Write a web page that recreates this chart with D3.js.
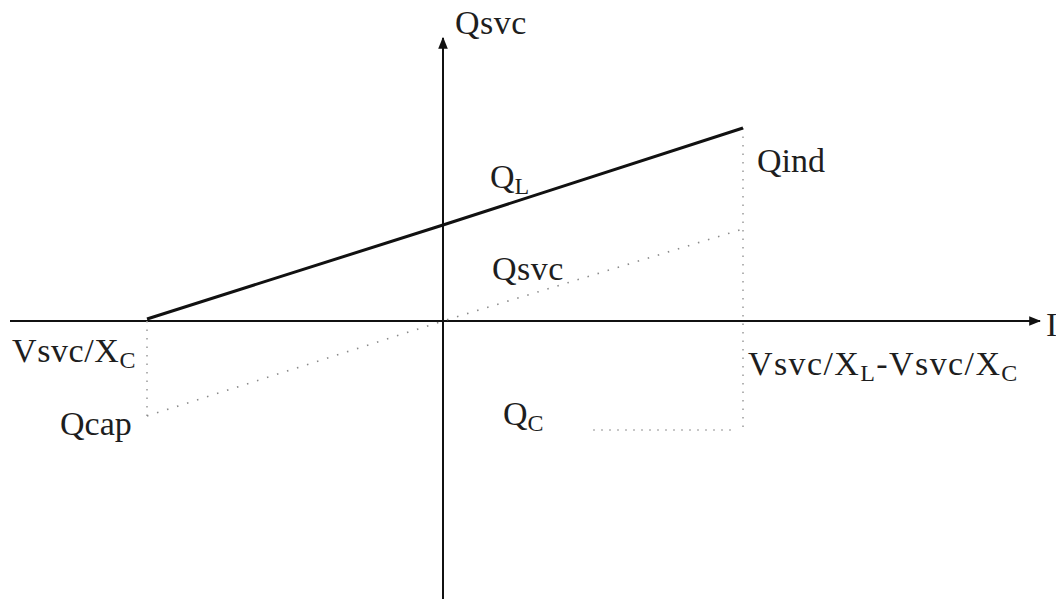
<!DOCTYPE html>
<html>
<head>
<meta charset="utf-8">
<script src="https://cdn.jsdelivr.net/npm/d3@7"></script>
<style>
  html, body { margin: 0; padding: 0; background: #fff; overflow: hidden; }
  text { font-family: "Liberation Serif", "DejaVu Serif", serif; fill: #1e1e1e; }
</style>
</head>
<body>
<div id="chart"></div>
<script>
// SVC characteristic: Qsvc = Q_L - Q_C against current I
// x positions (abstract units): capacitive limit, origin, inductive limit
var xPoints = [-2.96, 0, 3.0];
var qLine = [0.02, 0.96, 1.93];      // Q_L, solid
var qSvcLine = [-0.95, 0, 0.92];     // Qsvc, dotted
var qcLevel = -1.09;                  // Q_C dotted level
var qcRange = [1.5, 2.9];

var width = 1056, height = 599;

var svg = d3.select("#chart").append("svg")
    .attr("width", width)
    .attr("height", height);

var x = d3.scaleLinear().domain([-4.33, 5.97]).range([10, 1040]);
var y = d3.scaleLinear().domain([-2.78, 2.83]).range([599, 38]);

var defs = svg.append("defs");
defs.append("marker")
    .attr("id", "arrow")
    .attr("viewBox", "0 0 10 10")
    .attr("refX", 9).attr("refY", 5)
    .attr("markerWidth", 6).attr("markerHeight", 6)
    .attr("markerUnits", "strokeWidth")
    .attr("orient", "auto")
    .append("path")
    .attr("d", "M0,1 L10,5 L0,9 Z")
    .attr("fill", "#111");

// axes
svg.append("line")
    .attr("x1", x(-4.33)).attr("y1", y(0))
    .attr("x2", x(5.97)).attr("y2", y(0))
    .attr("stroke", "#111").attr("stroke-width", 2)
    .attr("marker-end", "url(#arrow)");

svg.append("line")
    .attr("x1", x(0)).attr("y1", y(-2.78))
    .attr("x2", x(0)).attr("y2", y(2.83))
    .attr("stroke", "#111").attr("stroke-width", 2)
    .attr("marker-end", "url(#arrow)");

var line = d3.line()
    .x(function (d) { return x(d[0]); })
    .y(function (d) { return y(d[1]); });

// vertical dotted guides
svg.append("path")
    .attr("d", line([[xPoints[0], 0], [xPoints[0], qSvcLine[0] - 0.05]]))
    .attr("stroke", "#9a9a9a").attr("stroke-width", 1.5)
    .attr("stroke-dasharray", "1.5,7").attr("fill", "none");

svg.append("path")
    .attr("d", line([[xPoints[2], qLine[2]], [xPoints[2], qcLevel]]))
    .attr("stroke", "#9a9a9a").attr("stroke-width", 1.5)
    .attr("stroke-dasharray", "1.5,7").attr("fill", "none");

// Q_C dotted level
svg.append("path")
    .attr("d", line([[qcRange[0], qcLevel], [qcRange[1], qcLevel]]))
    .attr("stroke", "#b5b5b5").attr("stroke-width", 1.5)
    .attr("stroke-dasharray", "2,6").attr("fill", "none");

// Qsvc dotted
svg.append("path")
    .attr("d", line(xPoints.map(function (v, i) { return [v, qSvcLine[i]]; })))
    .attr("stroke", "#8a8a8a").attr("stroke-width", 1.6)
    .attr("stroke-dasharray", "1.5,9").attr("fill", "none");

// Q_L solid
svg.append("path")
    .attr("d", line(xPoints.map(function (v, i) { return [v, qLine[i]]; })))
    .attr("stroke", "#111").attr("stroke-width", 3)
    .attr("fill", "none");

// labels
function label(px, py, parts, size, spacing) {
    var t = svg.append("text")
        .attr("x", px).attr("y", py)
        .attr("font-size", size + "px")
        .attr("letter-spacing", (spacing || 0) + "px");
    parts.forEach(function (p) {
        var s = t.append("tspan").text(p.t);
        if (p.sub) {
            s.attr("font-size", Math.round(size * 0.7) + "px")
             .attr("dy", 6);
        } else if (p.back) {
            s.attr("dy", -6);
        }
    });
    return t;
}

var fs = 34;
label(455, 34, [{t: "Qsvc"}], fs, 0.5);
label(490, 188, [{t: "Q"}, {t: "L", sub: true}], fs);
label(757, 172, [{t: "Qind"}], fs);
label(492, 280, [{t: "Qsvc"}], fs, 0.5);
label(12, 362, [{t: "Vsvc/X"}, {t: "C", sub: true}], fs, 0.6);
label(748, 375, [{t: "Vsvc/X"}, {t: "L", sub: true}, {t: "-Vsvc/X", back: true}, {t: "C", sub: true}], fs, 1.4);
label(60, 435, [{t: "Qcap"}], fs);
label(503, 425, [{t: "Q"}, {t: "C", sub: true}], fs);
label(1046, 336, [{t: "I"}], fs);
</script>
</body>
</html>
